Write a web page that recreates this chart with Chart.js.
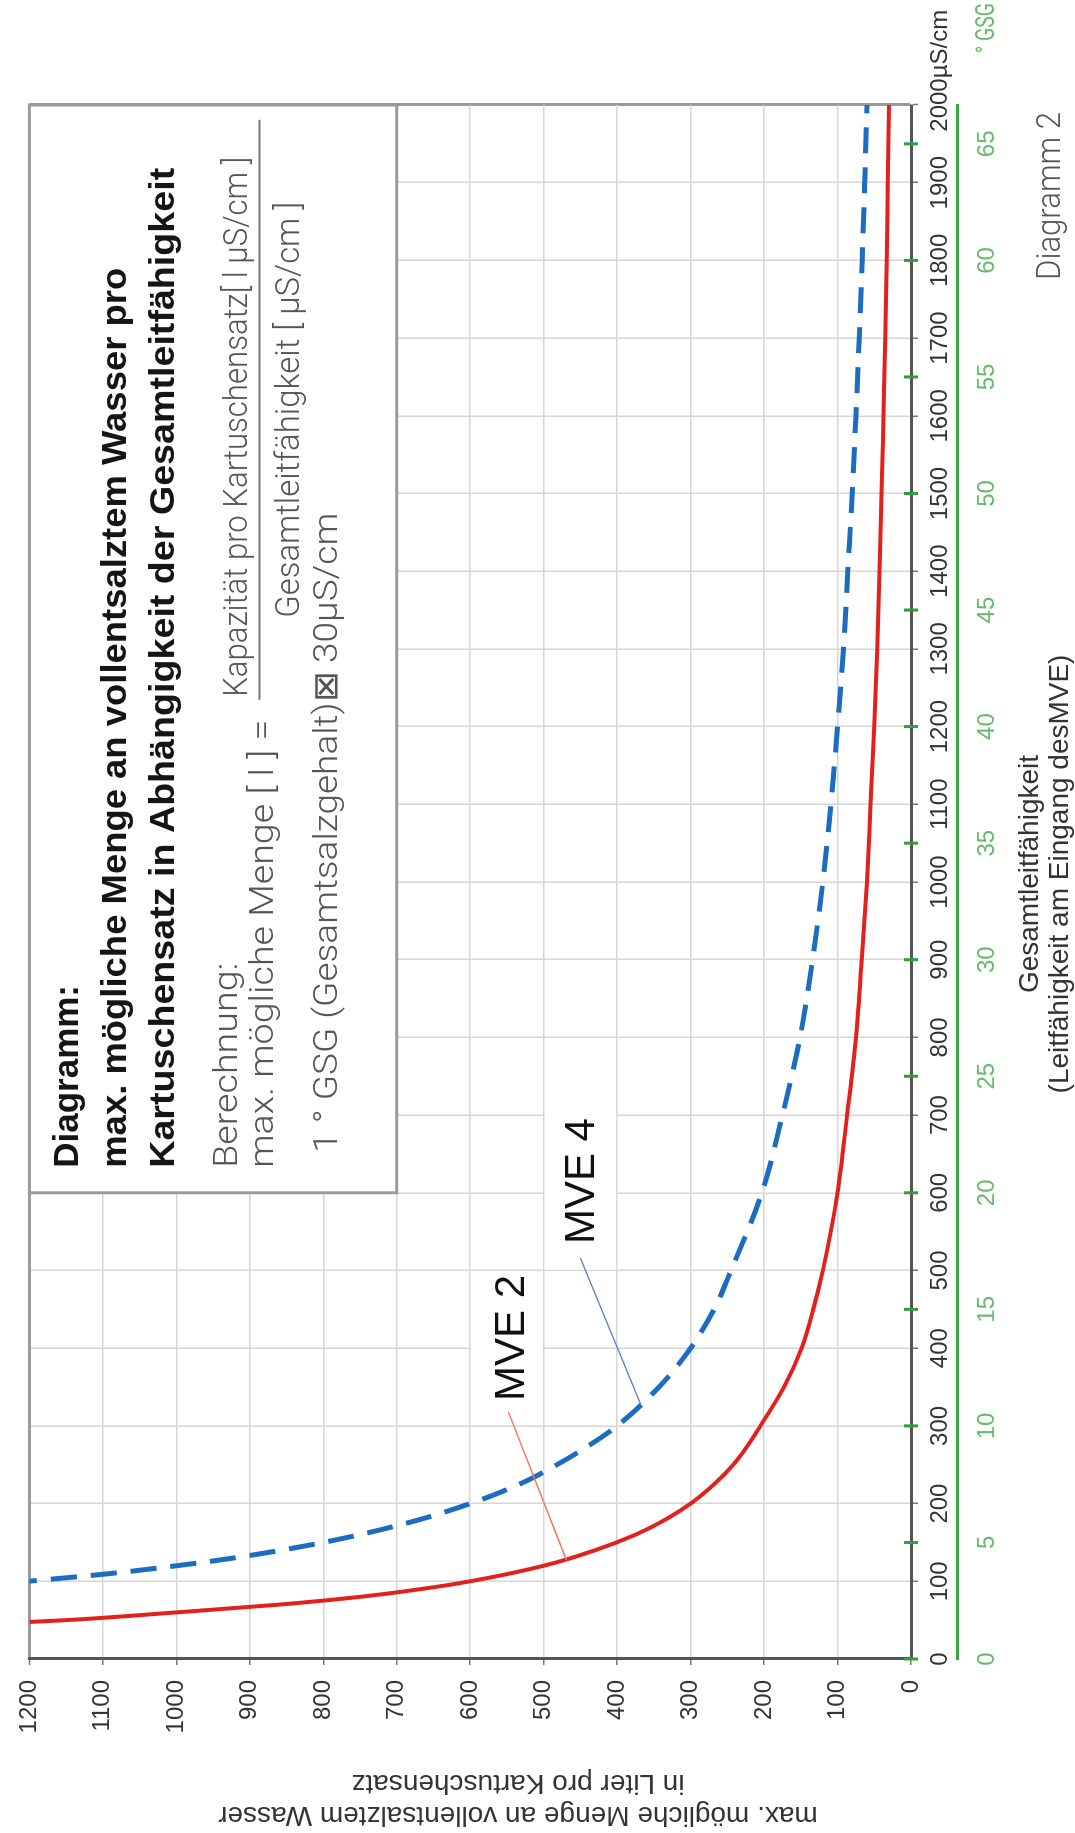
<!DOCTYPE html>
<html lang="de">
<head>
<meta charset="UTF-8">
<title>Diagramm 2</title>
<script src="https://cdn.jsdelivr.net/npm/chart.js@4.4.1/dist/chart.umd.min.js"></script>
<style>
  html, body { margin: 0; padding: 0; background: #fff; }
  body { width: 1075px; height: 1833px; overflow: hidden; position: relative; }
  /* das Diagramm liegt im Original quer auf der Seite */
  #wrap { position: absolute; left: 0; top: 0; width: 1833px; height: 1075px;
          transform-origin: 0 0; transform: translate(0, 1833px) rotate(-90deg); }
</style>
</head>
<body>
<div id="wrap"><canvas id="chart" width="1833" height="1075"></canvas></div>
<script>
// Gesamtleitfähigkeit in µS/cm und max. Menge in Litern
const condMve2   = [45, 50, 60, 70, 80, 90, 100, 120, 140, 160, 180, 200, 225, 250, 275, 300, 350, 400, 450, 500, 600, 700, 800, 900, 1000, 1100, 1200, 1300, 1400, 1500, 1600, 1700, 1800, 1900, 2000];
const litersMve2 = [1260, 1150, 1000, 860, 750, 667, 600, 500, 430, 375, 333, 300, 268, 242, 222, 205, 173, 149, 133, 120, 100, 87, 75, 67, 60, 55, 50, 46, 43, 40, 37.5, 35, 33, 31.5, 30];

const condMve4   = [98, 110, 120, 130, 150, 175, 200, 225, 250, 275, 300, 350, 400, 450, 500, 600, 700, 800, 900, 1000, 1100, 1200, 1300, 1400, 1500, 1600, 1700, 1800, 1900, 2000];
const litersMve4 = [1225, 1090, 1000, 922, 800, 686, 600, 533, 482, 438, 400, 343, 300, 268, 245, 203, 175, 151, 134, 120, 109, 100, 92, 86, 80, 75, 70.5, 66.5, 63, 60];

const condTicks  = [0, 100, 200, 300, 400, 500, 600, 700, 800, 900, 1000, 1100, 1200, 1300, 1400, 1500, 1600, 1700, 1800, 1900, 2000];
const literTicks = [0, 100, 200, 300, 400, 500, 600, 700, 800, 900, 1000, 1100, 1200];
const gsgTicks   = [0, 5, 10, 15, 20, 25, 30, 35, 40, 45, 50, 55, 60, 65];
const usPerGsg = 30;

const SANS = '"Liberation Sans", Arial, Helvetica, sans-serif';
const LIGHT = '"Liberation Sans Narrow", Roboto, sans-serif';
Chart.defaults.font.family = SANS;

// Text zeichnen, optional auf eine Breite gestaucht
function drawText(ctx, str, x, y, font, color, width, kFixed, align) {
  ctx.save();
  ctx.font = font;
  ctx.fillStyle = color;
  ctx.textAlign = 'left';
  const w = ctx.measureText(str).width;
  const k = width ? width / w : (kFixed || 1);
  let x0 = x;
  if (align === 'center') x0 = x - w * k / 2;
  if (align === 'right') x0 = x - w * k;
  ctx.translate(x0, y);
  ctx.scale(k, 1);
  ctx.fillText(str, 0, 0);
  ctx.restore();
  return k;
}

function segment(ctx, x0, y0, x1, y1, color, width) {
  ctx.save();
  ctx.strokeStyle = color;
  ctx.lineWidth = width;
  ctx.beginPath();
  ctx.moveTo(x0, y0);
  ctx.lineTo(x1, y1);
  ctx.stroke();
  ctx.restore();
}

const overlay = {
  id: 'overlay',
  beforeDatasetsDraw(chart) {
    const { ctx, scales: { x, y } } = chart;
    ctx.save();
    ctx.fillStyle = '#fff';
    // weiße Felder hinter den Beschriftungen MVE 2 / MVE 4
    [[300, 500, 500, 600], [500, 800, 400, 500]].forEach(([c0, c1, l0, l1]) => {
      const x0 = x.getPixelForValue(c0) + 1, x1 = x.getPixelForValue(c1) - 1;
      const y0 = y.getPixelForValue(l1) + 1, y1 = y.getPixelForValue(l0) - 1;
      ctx.fillRect(x0, y0, x1 - x0, y1 - y0);
    });
    // Infokasten
    const bx0 = x.getPixelForValue(600), bx1 = x.getPixelForValue(2000);
    const by0 = y.getPixelForValue(1200), by1 = y.getPixelForValue(700);
    ctx.fillRect(bx0, by0, bx1 - bx0, by1 - by0);
    ctx.strokeStyle = '#9a9a9a';
    ctx.lineWidth = 3;
    ctx.strokeRect(bx0, by0, bx1 - bx0, by1 - by0);
    ctx.restore();
  },
  afterDatasetsDraw(chart) {
    const { ctx, chartArea, scales: { x, y, gsg } } = chart;

    // Hinweislinien
    segment(ctx, x.getPixelForValue(318), y.getPixelForValue(548),
                 x.getPixelForValue(127), y.getPixelForValue(469), '#f07a5a', 1.5);
    segment(ctx, x.getPixelForValue(516), y.getPixelForValue(450),
                 x.getPixelForValue(328), y.getPixelForValue(368), '#5b84c8', 1.5);
    drawText(ctx, 'MVE 2', x.getPixelForValue(332), y.getPixelForValue(527), '42px ' + SANS, '#111');
    drawText(ctx, 'MVE 4', x.getPixelForValue(534), y.getPixelForValue(432), '42px ' + SANS, '#111');

    // Text im Kasten
    const bx = x.getPixelForValue(600), by = y.getPixelForValue(1200);
    const bold = 'bold 35px ' + SANS, light = '300 34px ' + LIGHT;
    const dark = '#151515', grey = '#555';
    drawText(ctx, 'Diagramm:', bx + 25, by + 49, bold, dark);
    drawText(ctx, 'max. mögliche Menge an vollentsalztem Wasser pro', bx + 25, by + 97, bold, dark, 900);
    drawText(ctx, 'Kartuschensatz in Abhängigkeit der Gesamtleitfähigkeit', bx + 25, by + 145, bold, dark, 1000);
    const k = drawText(ctx, 'max. mögliche Menge [ l ] =', bx + 25, by + 244, light, grey, 448);
    drawText(ctx, 'Berechnung:', bx + 25, by + 208, light, grey, null, k);
    drawText(ctx, 'Kapazität pro Kartuschensatz[ l µS/cm ]', bx + 496, by + 218, light, grey, 540);
    segment(ctx, bx + 493, by + 230, bx + 1073, by + 230, '#777', 2);
    drawText(ctx, 'Gesamtleitfähigkeit [ µS/cm ]', bx + 783, by + 270, light, grey, 416, null, 'center');
    drawText(ctx, '1 ° GSG (Gesamtsalzgehalt)⊠ 30µS/cm', bx + 40, by + 308, light, grey, 640);

    // grüne Teilstriche der °GSG-Skala auf der Hauptachse
    ctx.save();
    ctx.strokeStyle = '#2e9e3e';
    ctx.lineWidth = 3;
    ctx.beginPath();
    gsgTicks.forEach(v => {
      const px = gsg.getPixelForValue(v);
      ctx.moveTo(px, chartArea.bottom - 7);
      ctx.lineTo(px, chartArea.bottom + 7);
    });
    ctx.stroke();
    ctx.restore();

    // Einheiten an den Achsenenden
    ctx.save();
    ctx.font = '24px ' + SANS;
    const w2000 = ctx.measureText('2000').width;
    ctx.textBaseline = 'middle';
    ctx.fillStyle = '#333';
    ctx.fillText('µS/cm', x.getPixelForValue(2000) + w2000 / 2, x.top + 7 + 8 + 14.4);
    ctx.restore();
    ctx.save();
    ctx.textBaseline = 'middle';
    drawText(ctx, '° GSG', 1830, gsg.top + 16 + 14.4, '25px ' + LIGHT, '#66bb6a', 50, null, 'right');
    ctx.restore();

    // Achsentitel
    const cx = (chartArea.left + chartArea.right) / 2 + 8;
    drawText(ctx, 'Gesamtleitfähigkeit', cx, 1038, '28px ' + SANS, '#333', null, 1, 'center');
    drawText(ctx, '(Leitfähigkeit am Eingang desMVE)', cx, 1068, '28px ' + SANS, '#333', null, 1, 'center');
    drawText(ctx, 'Diagramm 2', 1553, 1060, '300 34px Roboto, ' + SANS, '#555', 168);

    [['max. mögliche Menge an vollentsalztem Wasser', 26], ['in Liter pro Kartuschensatz', 58]].forEach(([t, px]) => {
      ctx.save();
      ctx.translate(px, 518);
      ctx.rotate(-Math.PI / 2);
      ctx.font = '28px ' + SANS;
      ctx.fillStyle = '#333';
      ctx.textAlign = 'center';
      ctx.fillText(t, 0, 0);
      ctx.restore();
    });
  }
};

const edgeColor = (v, edge) => v === edge ? '#9a9a9a' : '#d6d6d6';
const edgeWidth = (v, edge) => v === edge ? 3 : 1.5;

new Chart(document.getElementById('chart'), {
  type: 'line',
  data: {
    datasets: [
      {
        label: 'MVE 2',
        data: condMve2.map((c, i) => ({ x: c, y: litersMve2[i] })),
        borderColor: '#e3201b',
        borderWidth: 4,
        pointRadius: 0,
        tension: 0.4,
        cubicInterpolationMode: 'monotone',
        clip: 0
      },
      {
        label: 'MVE 4',
        data: condMve4.map((c, i) => ({ x: c, y: litersMve4[i] })),
        borderColor: '#1c6cc1',
        borderWidth: 5,
        borderDash: [26, 14],
        pointRadius: 0,
        tension: 0.4,
        cubicInterpolationMode: 'monotone',
        clip: 0
      }
    ]
  },
  options: {
    responsive: false,
    animation: false,
    devicePixelRatio: 1,
    layout: { padding: { top: 20, right: 105, left: 0, bottom: 0 } },
    plugins: { legend: { display: false }, tooltip: { enabled: false } },
    scales: {
      x: {
        type: 'linear', position: 'bottom', weight: 0, min: 0, max: 2000,
        afterBuildTicks: s => { s.ticks = condTicks.map(v => ({ value: v })); },
        afterFit: s => { s.height = 46; },
        ticks: { font: { size: 24 }, color: '#333', padding: 8, maxRotation: 0, autoSkip: false,
                 callback: v => String(v) },
        grid: {
          color: c => edgeColor(c.tick && c.tick.value, 2000),
          lineWidth: c => edgeWidth(c.tick && c.tick.value, 2000),
          tickLength: 7, tickColor: '#777', tickWidth: 1.5
        },
        border: { color: '#555', width: 3 }
      },
      gsg: {
        type: 'linear', position: 'bottom', weight: 1, min: 0, max: 2000 / usPerGsg,
        afterBuildTicks: s => { s.ticks = gsgTicks.map(v => ({ value: v })); },
        afterFit: s => { s.height = 118; },
        ticks: { font: { size: 24 }, color: '#66bb6a', padding: 16, maxRotation: 0, autoSkip: false,
                 includeBounds: false, callback: v => String(v) },
        grid: { display: false, drawTicks: false },
        border: { display: true, color: '#3aa844', width: 3 }
      },
      y: {
        type: 'linear', position: 'left', min: 0, max: 1200,
        afterBuildTicks: s => { s.ticks = literTicks.map(v => ({ value: v })); },
        afterFit: s => { s.width = 174; },
        ticks: { font: { size: 24 }, color: '#333', padding: 15, callback: v => String(v) },
        grid: {
          color: c => edgeColor(c.tick && c.tick.value, 1200),
          lineWidth: c => edgeWidth(c.tick && c.tick.value, 1200),
          tickLength: 6, tickColor: '#777', tickWidth: 1.5
        },
        border: { color: '#555', width: 3 }
      }
    }
  },
  plugins: [overlay]
});
</script>
</body>
</html>
